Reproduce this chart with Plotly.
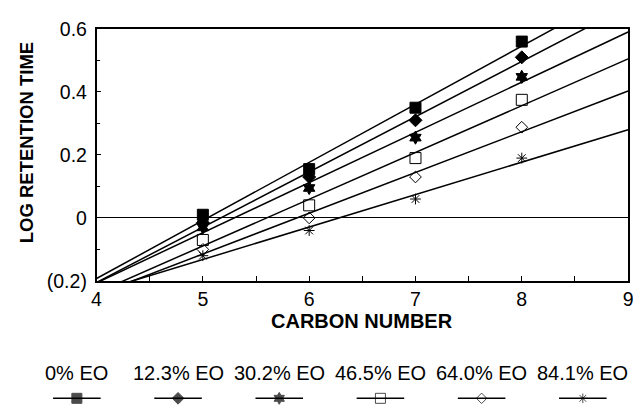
import numpy as np
import plotly.graph_objects as go

# Carbon number of each homologue
carbon = [5, 6, 7, 8]

# Log retention time per EO content series
series_names = ["0% EO", "12.3% EO", "30.2% EO", "46.5% EO", "64.0% EO", "84.1% EO"]
eo_0 = [0.01, 0.155, 0.35, 0.56]
eo_12 = [-0.015, 0.13, 0.31, 0.51]
eo_30 = [-0.03, 0.095, 0.255, 0.448]
eo_46 = [-0.07, 0.04, 0.19, 0.375]
eo_64 = [-0.10, 0.0, 0.13, 0.288]
eo_84 = [-0.12, -0.04, 0.06, 0.19]
series_values = [eo_0, eo_12, eo_30, eo_46, eo_64, eo_84]

y_tick_vals = [-0.2, 0, 0.2, 0.4, 0.6]
y_tick_text = ["(0.2)", "0", "0.2", "0.4", "0.6"]
x_tick_vals = [4, 5, 6, 7, 8, 9]

symbols = ["square", "diamond", "hexagram", "square-open", "diamond-open", "asterisk-open"]
sizes = [11, 10, 10, 11, 9, 9]

FONT = "Liberation Sans, Arial, sans-serif"
W, H = 639, 415
fig = go.Figure()

fit_x = np.array([4.0, 9.0])
for i, (name, vals) in enumerate(zip(series_names, series_values)):
    slope, intercept = np.polyfit(carbon, vals, 1)
    fig.add_trace(go.Scatter(
        x=fit_x, y=slope * fit_x + intercept, mode="lines",
        line=dict(color="black", width=1.5), showlegend=False, hoverinfo="skip",
    ))
    fig.add_trace(go.Scatter(
        x=carbon, y=vals, mode="markers", name=name, showlegend=False,
        marker=dict(symbol=symbols[i], size=sizes[i], color="black",
                    line=dict(color="black", width=1)),
    ))

# Legend row beneath the chart: label above a short line with the marker
slot = 102.8  # px per legend entry
for i, name in enumerate(series_names):
    cx = 73 / slot + i
    fig.add_trace(go.Scatter(
        x=[cx - 0.235, cx, cx + 0.235], y=[0.5, 0.5, 0.5], mode="lines+markers",
        xaxis="x2", yaxis="y2", showlegend=False, hoverinfo="skip", cliponaxis=False,
        line=dict(color="black", width=1.5),
        marker=dict(symbol=symbols[i], size=[0, sizes[i] - 1, 0], color="black",
                    line=dict(color="black", width=1)),
    ))
    fig.add_annotation(
        x=cx, y=1 - 382 / H, xref="x2", yref="paper", text=name,
        showarrow=False, font=dict(family=FONT, size=20, color="black"),
        xanchor="center", yanchor="middle",
    )

# Axis titles
fig.add_annotation(
    x=363 / W, y=1 - 327 / H, xref="paper", yref="paper",
    text="<b>CARBON NUMBER</b>", showarrow=False,
    font=dict(family=FONT, size=20, color="black"), xanchor="center", yanchor="middle",
)
fig.add_annotation(
    x=22 / W, y=1 - 139 / H, xref="paper", yref="paper", textangle=-90,
    text="<b>LOG RETENTION TIME</b>", showarrow=False,
    font=dict(family=FONT, size=18.5, color="black"), xanchor="center", yanchor="middle",
)

axis_common = dict(
    showline=True, linecolor="black", linewidth=1.5, mirror=True,
    showgrid=False, ticks="inside", ticklen=5, tickcolor="black", tickwidth=1,
    tickfont=dict(family=FONT, size=19.5, color="black"),
)

fig.update_layout(
    width=W, height=H,
    margin=dict(l=0, r=0, t=0, b=0),
    paper_bgcolor="white", plot_bgcolor="white",
    xaxis=dict(
        domain=[93 / W, 633 / W], range=[4, 9],
        tickvals=x_tick_vals,
        minor=dict(dtick=0.5, ticks="inside", ticklen=5, tickcolor="black", showgrid=False),
        zeroline=False,
        **axis_common,
    ),
    yaxis=dict(
        domain=[130 / H, 396 / H], range=[-0.2, 0.6],
        tickvals=y_tick_vals, ticktext=y_tick_text,
        minor=dict(dtick=0.1, ticks="inside", ticklen=4, tickcolor="black", showgrid=False),
        zeroline=True, zerolinecolor="black", zerolinewidth=1.2,
        ticklabelstandoff=4,
        **axis_common,
    ),
    xaxis2=dict(domain=[0, 1], range=[0, W / slot], visible=False, anchor="y2"),
    yaxis2=dict(domain=[0, 12 / H], range=[0, 1], visible=False, anchor="x2"),
)

fig.write_html("out.html")
